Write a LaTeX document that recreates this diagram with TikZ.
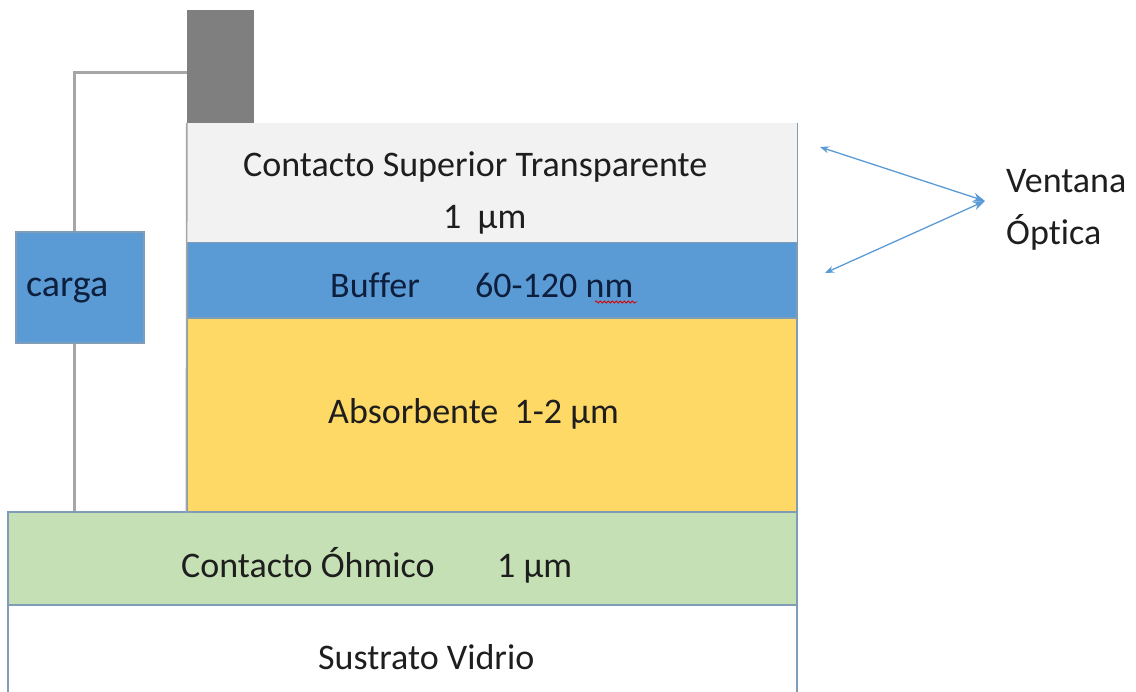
\documentclass[tikz,border=0pt]{standalone}
\usepackage{fontspec}
\setmainfont{Carlito}[Ligatures=NoCommon]
\usetikzlibrary{arrows.meta,decorations.pathmorphing}
\definecolor{topc}{HTML}{F2F2F2}
\definecolor{bufc}{HTML}{5B9BD5}
\definecolor{absc}{HTML}{FFD966}
\definecolor{ohmc}{HTML}{C5E0B4}
\definecolor{edgec}{HTML}{7F9DB9}
\definecolor{elc}{HTML}{7F7F7F}
\definecolor{wirec}{HTML}{A6A6A6}
\definecolor{txt}{HTML}{1E1E1E}
\definecolor{navy}{HTML}{0D1F3C}
\definecolor{arrc}{HTML}{5B9BD5}
\tikzset{
  layer/.style={draw=edgec, line width=1.2pt, inner sep=0pt, anchor=center},
  lbl/.style={font=\fontsize{36}{40}\selectfont, text=txt, inner sep=0pt, anchor=base west},
  wire/.style={draw=wirec, line width=3pt},
  optarrow/.style={draw=arrc, line width=1.3pt, {Stealth[length=9pt,width=7pt]}-{Stealth[length=12pt,width=9pt]}}
}
\begin{document}
\begin{tikzpicture}[x=1pt,y=-1pt]
\useasboundingbox (0,0) rectangle (1136,692);
% layers
\node[layer, fill=white, minimum width=789pt, minimum height=110pt] (sub) at (402.5,660) {};
\node[layer, fill=ohmc, minimum width=789pt, minimum height=93pt] (ohm) at (402.5,558.5) {};
\node[layer, fill=absc, minimum width=610pt, minimum height=194pt] (abs) at (492,415) {};
\node[layer, fill=bufc, minimum width=610pt, minimum height=76pt] (buf) at (492,280) {};
\node[draw=none, fill=topc, inner sep=0pt, minimum width=610pt, minimum height=119pt] (top) at (492,182.5) {};
\draw[edgec, line width=1.2pt] (top.north east) -- (top.south east);
\draw[wirec, line width=1.6pt] (top.north west) -- (abs.south west);
\node[draw=none, fill=elc, minimum width=67pt, minimum height=113pt, inner sep=0pt] (el) at (220.5,66.5) {};
\node[layer, fill=bufc, minimum width=128pt, minimum height=111pt] (carga) at (80,287.5) {};
% wire
\coordinate (wa) at (74,73);
\draw[wire] (el.west |- wa) -- (wa) -- (carga.north -| wa);
\draw[wire] (carga.south -| wa) -- (ohm.north -| wa);
% texts
\node[lbl] (t1) at (243,177) {Contacto Superior Transparente};
\node[lbl] (t2) at (443,229) {1\ \ µm};
\node[lbl, text=navy] (t3) at (330,298) {Buffer};
\node[lbl, text=navy] (t4) at (475,298) {60-120 nm};
\draw[red!85!black, line width=0.8pt, decorate, decoration={snake, amplitude=1pt, segment length=4pt}] (595,302) -- (637,302);
\node[lbl] (t5) at (328,424) {Absorbente\ \ 1-2 µm};
\node[lbl] (t6) at (181,577) {Contacto Óhmico};
\node[lbl] (t7) at (497,577) {1 µm};
\node[lbl] (t8) at (318,669) {Sustrato Vidrio};
\node[lbl, text=navy, font=\fontsize{38}{40}\selectfont] (t9) at (26,297) {carga};
\node[lbl] (v1) at (1006,193) {Ventana};
\node[lbl] (v2) at (1006,245) {Óptica};
% arrows
\coordinate (ap) at (985,201);
\coordinate (a1) at (820,147);
\coordinate (a2) at (825,273);
\draw[optarrow] (a1) -- (ap);
\draw[optarrow] (a2) -- (ap);
\end{tikzpicture}
\end{document}
